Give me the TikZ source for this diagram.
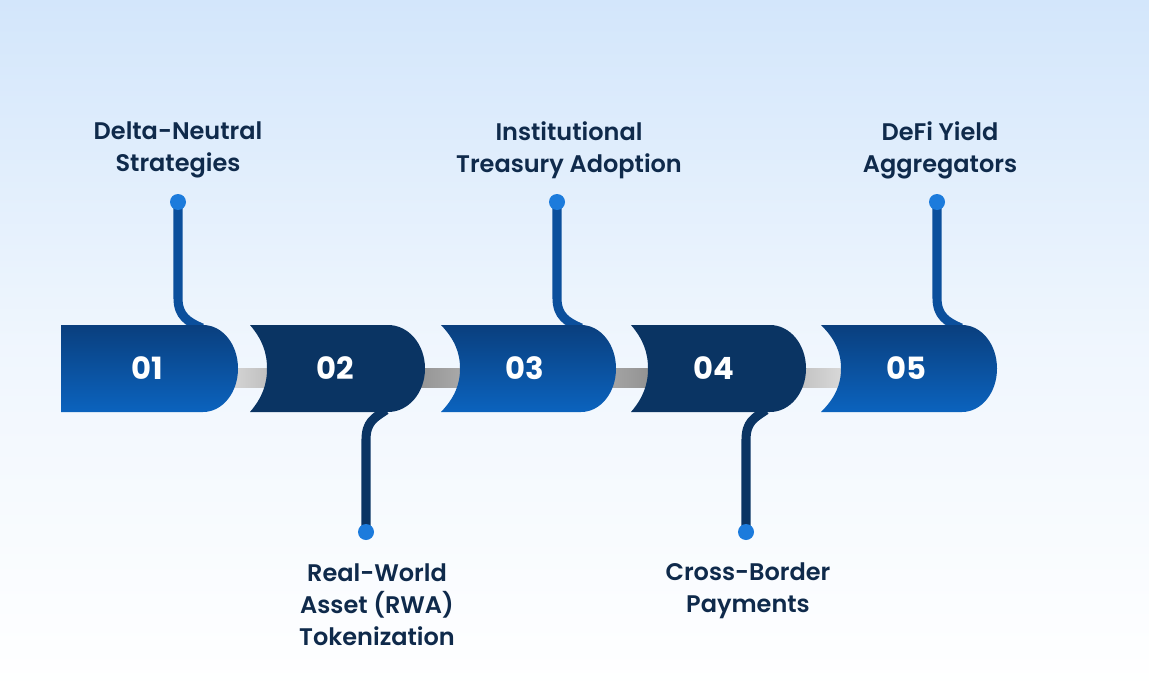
\documentclass[tikz,border=0pt]{standalone}
\usepackage{fontspec}
\setmainfont{Poppins}[BoldFont={Poppins SemiBold}]
\newfontfamily\numfont{Poppins Bold}
\usetikzlibrary{calc}
\definecolor{bgtop}{HTML}{D3E6FB}
\definecolor{bgbot}{HTML}{FFFFFF}
\definecolor{navy}{HTML}{0A3463}
\definecolor{bluetop}{HTML}{0A3F7E}
\definecolor{bluebot}{HTML}{0B63BE}
\definecolor{dotblue}{HTML}{1C7BDC}
\definecolor{stemblue}{HTML}{0B4F9C}
\definecolor{txt}{HTML}{0F2A4B}
\definecolor{grayA}{HTML}{D9D9D9}
\definecolor{grayB}{HTML}{BEBEBE}
\definecolor{grayC}{HTML}{A9A9A9}
\definecolor{grayD}{HTML}{929292}
\tikzset{
  lbl/.style={text=txt, font=\fontsize{18}{24}\selectfont\bfseries, align=center},
  num/.style={text=white, font=\fontsize{23}{24}\selectfont\numfont},
  stemup/.style={line width=6.8pt, stemblue},
  stemdn/.style={line width=6.8pt, navy},
  tipdot/.style={circle, fill=dotblue, inner sep=0pt, minimum size=12pt},
}
\newcommand{\segpath}[4]{% L, d, F, R
  (#1,325) -- (#3,325) .. controls ({#3+0.55*(#4-#3)},325) and (#4,344) .. (#4,368.5)
  .. controls (#4,393) and ({#3+0.55*(#4-#3)},412) .. (#3,412) -- (#1,412)
  .. controls ({#1+0.7*#2},398) and ({#1+#2},385) .. ({#1+#2},368.5)
  .. controls ({#1+#2},352) and ({#1+0.7*#2},339) .. (#1,325) -- cycle}
\begin{document}
\begin{tikzpicture}[x=0.75pt,y=-0.75pt]
\useasboundingbox (0,0) rectangle (1149,692);
\shade[top color=bgtop, bottom color=bgbot, middle color=bgtop!35!white] (0,0) rectangle (1149,692);

% gray bars
\shade[left color=grayA, right color=grayB] (225,368) rectangle (270,387);
\shade[left color=grayD, right color=grayC] (412,368) rectangle (462,387);
\shade[left color=grayC, right color=grayD] (602,368) rectangle (650,387);
\shade[left color=grayB, right color=grayA] (792,368) rectangle (843,387);

% stem end points
\coordinate (d1) at (178,202);
\coordinate (d3) at (557,202);
\coordinate (d5) at (937,202);
\coordinate (d2) at (366,532);
\coordinate (d4) at (746,532);

% stems (drawn before segments)
\foreach \s in {1,3,5}{
  \draw[stemup] (d\s) -- ++(0,96) .. controls +(0,18) and +(-14,-6) .. ++(24,30);
}
\draw[stemdn] (d2) -- ++(0,-92) .. controls +(0,-18) and +(-12,8) .. ++(20,-30);
\draw[stemdn] (d4) -- ++(0,-92) .. controls +(0,-18) and +(-12,8) .. ++(20,-30);

% segments
\shade[top color=bluetop, bottom color=bluebot] \segpath{61}{0}{203}{238};
\fill[navy] \segpath{250}{17}{388}{425};
\shade[top color=bluetop, bottom color=bluebot] \segpath{441}{19}{581}{616};
\fill[navy] \segpath{631}{17}{770}{806};
\shade[top color=bluetop, bottom color=bluebot] \segpath{821}{20}{962}{997};

% numbers
\node[num] (n1) at (147,368) {01};
\node[num] (n2) at (335,368) {02};
\node[num] (n3) at (525,368) {03};
\node[num] (n4) at (714,368) {04};
\node[num] (n5) at (906,368) {05};

% dots
\foreach \s in {1,...,5}{ \node[tipdot] at (d\s) {}; }

% labels
\node[lbl] (l1) at (178,150) {Delta-Neutral\\Strategies};
\node[lbl] (l3) at (569,150) {Institutional\\Treasury Adoption};
\node[lbl] (l5) at (940,150) {DeFi Yield\\Aggregators};
\node[lbl] (l2) at (377,605) {Real-World\\Asset (RWA)\\Tokenization};
\node[lbl] (l4) at (748,591) {Cross-Border\\Payments};
\end{tikzpicture}
\end{document}
